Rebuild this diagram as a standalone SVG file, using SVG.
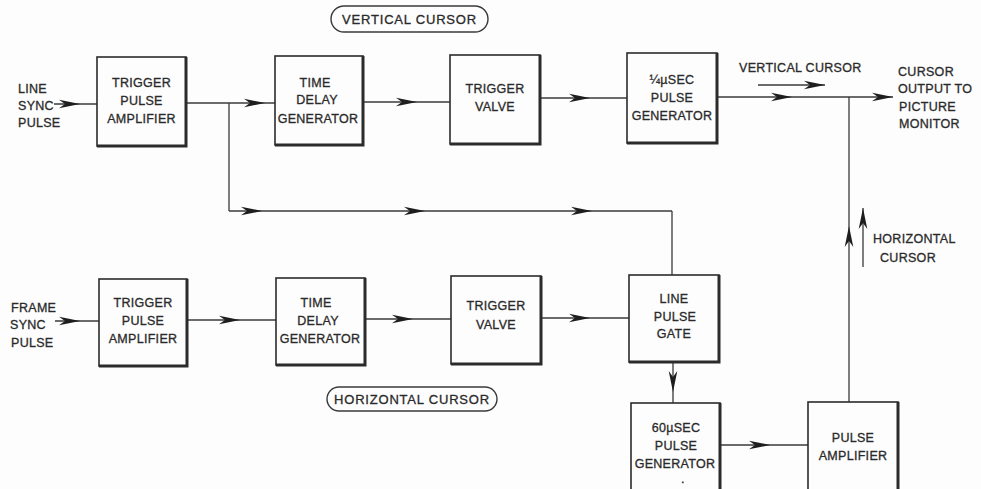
<svg xmlns="http://www.w3.org/2000/svg" width="981" height="489" viewBox="0 0 981 489">
<defs>
<style>
.bg{fill:#fdfdfd}
.box{fill:#fdfdfd;stroke:#2b2b2b;stroke-width:1.6}
.sh{fill:none;stroke:#2b2b2b;stroke-width:3}
.ln{fill:none;stroke:#3a3a3a;stroke-width:1.3}
.t{font-family:"Liberation Sans",Arial,sans-serif;font-size:12.5px;fill:#2a2a2a;stroke:#2a2a2a;stroke-width:0.3;text-anchor:middle;letter-spacing:0.3px}
.l{text-anchor:start}
.pill{fill:none;stroke:#3a3a3a;stroke-width:1.4}
.ar{marker-mid:url(#ah)}
.ae{marker-end:url(#ah)}
</style>
<marker id="ah" markerUnits="userSpaceOnUse" markerWidth="24" markerHeight="12" viewBox="-22 -6 24 12" refX="0" refY="0" orient="auto">
<path d="M0,0 L-21,-4.3 L-15,0 L-21,4.3 Z" fill="#1e1e1e"/>
</marker>
</defs>
<rect class="bg" x="0" y="0" width="981" height="489"/>

<g id="connectors">
<path class="ln ar" d="M54 104 L80 104 L97 104"/>
<path class="ln ar" d="M186 103 L265 103 L275 103"/>
<path class="ln ar" d="M363 102 L417 102 L450 102"/>
<path class="ln ar" d="M540 98 L590 98 L627 98"/>
<path class="ln ar ae" d="M717 97 L792 97 L893 97"/>
<path class="ln" d="M229 103 V211"/>
<path class="ln ar" d="M229 211 L262 211 L425 211 L592 211 L672 211"/>
<path class="ln" d="M672 211 V275"/>
<path class="ln ar" d="M55 321 L80 321 L99 321"/>
<path class="ln ar" d="M187 320 L240 320 L276 320"/>
<path class="ln ar" d="M365 319 L413 319 L451 319"/>
<path class="ln ar" d="M541 318 L590 318 L629 318"/>
<path class="ln ar" d="M673 362 L673 392 L673 403"/>
<path class="ln ar" d="M720 445 L770 445 L808 445"/>
<path class="ln ar" d="M849 402 L849 226 L849 97"/>
<path class="ln ae" d="M758 85 L825 85"/>
<path class="ln ae" d="M863 267 L863 208"/>
</g>

<g id="line-sync-label">
<text class="t l" x="18" y="93">LINE</text>
<text class="t l" x="18" y="110">SYNC</text>
<text class="t l" x="18" y="127">PULSE</text>
</g>
<g id="frame-sync-label">
<text class="t l" x="11" y="312">FRAME</text>
<text class="t l" x="10" y="329">SYNC</text>
<text class="t l" x="11" y="347">PULSE</text>
</g>

<g id="vertical-cursor-title">
<rect class="pill" x="331" y="6" width="157" height="26" rx="13"/>
<text class="t" x="409.5" y="24" style="font-size:13px;letter-spacing:0.8px">VERTICAL CURSOR</text>
</g>
<g id="horizontal-cursor-title">
<rect class="pill" x="327" y="387" width="170" height="24" rx="12"/>
<text class="t" x="412" y="404" style="font-size:13px;letter-spacing:0.8px">HORIZONTAL CURSOR</text>
</g>

<g id="top-tpa">
<rect class="box" x="97" y="57" width="89" height="89"/>
<path class="sh" d="M186 57 V146 H97"/>
<text class="t" x="141.5" y="87">TRIGGER</text>
<text class="t" x="141.5" y="105">PULSE</text>
<text class="t" x="141.5" y="123">AMPLIFIER</text>
</g>
<g id="top-tdg">
<rect class="box" x="275" y="56" width="88" height="89"/>
<path class="sh" d="M363 56 V145 H275"/>
<text class="t" x="315" y="87">TIME</text>
<text class="t" x="317" y="104">DELAY</text>
<text class="t" x="318" y="123">GENERATOR</text>
</g>
<g id="top-tv">
<rect class="box" x="450" y="55" width="90" height="89"/>
<path class="sh" d="M540 55 V144 H450"/>
<text class="t" x="495" y="93">TRIGGER</text>
<text class="t" x="495" y="111">VALVE</text>
</g>
<g id="top-quarter-us">
<rect class="box" x="627" y="53" width="90" height="90"/>
<path class="sh" d="M717 53 V143 H627"/>
<text class="t" x="672" y="84">¼µSEC</text>
<text class="t" x="672" y="102">PULSE</text>
<text class="t" x="672" y="120">GENERATOR</text>
</g>

<g id="vertical-cursor-label">
<text class="t l" x="739" y="72">VERTICAL CURSOR</text>
</g>
<g id="output-label">
<text class="t l" x="898" y="76">CURSOR</text>
<text class="t l" x="898" y="93">OUTPUT TO</text>
<text class="t l" x="899" y="111">PICTURE</text>
<text class="t l" x="899" y="128">MONITOR</text>
</g>
<g id="horizontal-cursor-label">
<text class="t l" x="873" y="243">HORIZONTAL</text>
<text class="t l" x="880" y="262">CURSOR</text>
</g>

<g id="bot-tpa">
<rect class="box" x="99" y="279" width="88" height="87"/>
<path class="sh" d="M187 279 V366 H99"/>
<text class="t" x="143" y="307">TRIGGER</text>
<text class="t" x="143" y="325">PULSE</text>
<text class="t" x="143" y="343">AMPLIFIER</text>
</g>
<g id="bot-tdg">
<rect class="box" x="276" y="278" width="89" height="87"/>
<path class="sh" d="M365 278 V365 H276"/>
<text class="t" x="316" y="307">TIME</text>
<text class="t" x="318" y="325">DELAY</text>
<text class="t" x="320" y="343">GENERATOR</text>
</g>
<g id="bot-tv">
<rect class="box" x="451" y="276" width="90" height="88"/>
<path class="sh" d="M541 276 V364 H451"/>
<text class="t" x="496" y="310">TRIGGER</text>
<text class="t" x="496" y="329">VALVE</text>
</g>
<g id="line-pulse-gate">
<rect class="box" x="629" y="275" width="90" height="87"/>
<path class="sh" d="M719 275 V362 H629"/>
<text class="t" x="674" y="303">LINE</text>
<text class="t" x="675" y="321">PULSE</text>
<text class="t" x="674" y="338">GATE</text>
</g>
<g id="sixty-us">
<rect class="box" x="631" y="403" width="89" height="95"/>
<path class="sh" d="M720 403 V498"/>
<text class="t" x="676" y="432">60µSEC</text>
<text class="t" x="676" y="450">PULSE</text>
<text class="t" x="675" y="468">GENERATOR</text>
<text class="t" x="683" y="483">.</text>
</g>
<g id="pulse-amp">
<rect class="box" x="808" y="402" width="90" height="96"/>
<path class="sh" d="M898 402 V498"/>
<text class="t" x="853" y="442">PULSE</text>
<text class="t" x="853" y="460">AMPLIFIER</text>
</g>
</svg>
